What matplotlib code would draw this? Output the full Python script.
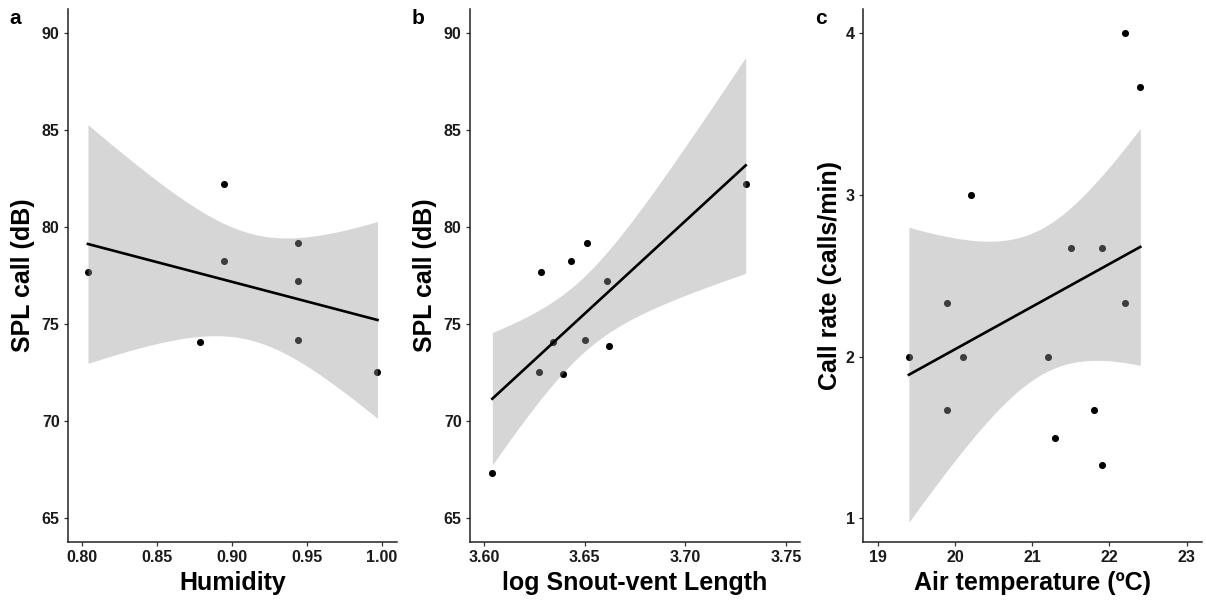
import numpy as np
import matplotlib
matplotlib.use("Agg")
import matplotlib.pyplot as plt

plt.rcParams['font.family'] = ['Liberation Sans', 'DejaVu Sans']
plt.rcParams['font.weight'] = 'bold'

# --- data ---
humidity = [0.804, 0.895, 0.895, 0.944, 0.944, 0.879, 0.944, 0.997]
spl_hum = [77.68, 82.22, 78.26, 79.16, 77.22, 74.07, 74.18, 72.54]

log_svl = [3.628, 3.643, 3.651, 3.661, 3.730, 3.604, 3.627, 3.634, 3.639, 3.650, 3.662]
spl_svl = [77.68, 78.26, 79.16, 77.22, 82.22, 67.30, 72.54, 74.07, 72.42, 74.18, 73.87]

air_temp = [22.2, 22.4, 20.2, 21.5, 21.9, 19.9, 22.2, 19.4, 20.1, 21.2, 19.9, 21.8, 21.3, 21.9]
call_rate = [4.00, 3.67, 3.00, 2.67, 2.67, 2.33, 2.33, 2.00, 2.00, 2.00, 1.67, 1.67, 1.50, 1.33]

# two-sided 95% t quantiles for df = n - 2
T975 = {6: 2.4469, 9: 2.2622, 12: 2.1788}


def smooth_lm(ax, x, y):
    """like ggplot geom_smooth(method='lm'): fit line + 95% CI ribbon"""
    x = np.asarray(x, float)
    y = np.asarray(y, float)
    n = len(x)
    b, a = np.polyfit(x, y, 1)
    resid = y - (a + b * x)
    s = np.sqrt((resid ** 2).sum() / (n - 2))
    xs = np.linspace(x.min(), x.max(), 80)
    fit = a + b * xs
    se = s * np.sqrt(1 / n + (xs - x.mean()) ** 2 / ((x - x.mean()) ** 2).sum())
    t = T975[n - 2]
    # ribbon goes over the points, so points inside it look grey
    ax.fill_between(xs, fit - t * se, fit + t * se, color='#999999', alpha=0.4,
                    lw=0, zorder=3)
    ax.plot(xs, fit, color='black', lw=1.9, zorder=4)


def style(ax, xlim, ylim, xticks, yticks, xlabels, ylabels):
    ax.set_xlim(*xlim)
    ax.set_ylim(*ylim)
    ax.set_xticks(xticks)
    ax.set_xticklabels(xlabels)
    ax.set_yticks(yticks)
    ax.set_yticklabels(ylabels)
    for sp in ['top', 'right']:
        ax.spines[sp].set_visible(False)
    for sp in ['left', 'bottom']:
        ax.spines[sp].set_linewidth(1.1)
        ax.spines[sp].set_color('#222222')
    ax.tick_params(length=3, width=0.9, color='#333333', labelsize=11.5,
                   labelcolor='#1a1a1a', pad=3)
    for lab in ax.get_xticklabels() + ax.get_yticklabels():
        lab.set_fontweight('bold')


W, H = 1206, 601
fig = plt.figure(figsize=(W / 100, H / 100), dpi=100)


def add_axes(left, right, top=9, bottom=542):
    return fig.add_axes([left / W, 1 - bottom / H, (right - left) / W, (bottom - top) / H])


ax1 = add_axes(68, 397)
ax2 = add_axes(470, 800)
ax3 = add_axes(863, 1202)

for ax, x, y in [(ax1, humidity, spl_hum), (ax2, log_svl, spl_svl), (ax3, air_temp, call_rate)]:
    ax.scatter(x, y, s=26, color='black', lw=0, zorder=2)
    smooth_lm(ax, x, y)

spl_ticks = [65, 70, 75, 80, 85, 90]
style(ax1, (0.7907, 1.01), (63.76, 91.24), [0.80, 0.85, 0.90, 0.95, 1.00], spl_ticks,
      ['0.80', '0.85', '0.90', '0.95', '1.00'], [str(v) for v in spl_ticks])
style(ax2, (3.5929, 3.757), (63.76, 91.24), [3.60, 3.65, 3.70, 3.75], spl_ticks,
      ['3.60', '3.65', '3.70', '3.75'], [str(v) for v in spl_ticks])
style(ax3, (18.805, 23.2), (0.854, 4.15), [19, 20, 21, 22, 23], [1, 2, 3, 4],
      ['19', '20', '21', '22', '23'], ['1', '2', '3', '4'])

# axis titles
tfont = dict(fontsize=18, fontweight='bold', color='black')
fig.text(232.5 / W, 1 - 583 / H, 'Humidity', ha='center', va='center', **tfont)
fig.text(635 / W, 1 - 583 / H, 'log Snout-vent Length', ha='center', va='center', **tfont)
fig.text(1032 / W, 1 - 583 / H, 'Air temperature (ºC)', ha='center', va='center', **tfont)
fig.text(23 / W, 1 - 275 / H, 'SPL call (dB)', rotation=90, ha='center', va='center', **tfont)
fig.text(425 / W, 1 - 275 / H, 'SPL call (dB)', rotation=90, ha='center', va='center', **tfont)
fig.text(830 / W, 1 - 275 / H, 'Call rate (calls/min)', rotation=90, ha='center', va='center', **tfont)

# panel letters
for xp, lab in [(15, 'a'), (418, 'b'), (821, 'c')]:
    fig.text(xp / W, 1 - 19 / H, lab, ha='center', va='center', fontsize=15,
             fontweight='bold', color='black')

fig.savefig('out.png', dpi=100)
